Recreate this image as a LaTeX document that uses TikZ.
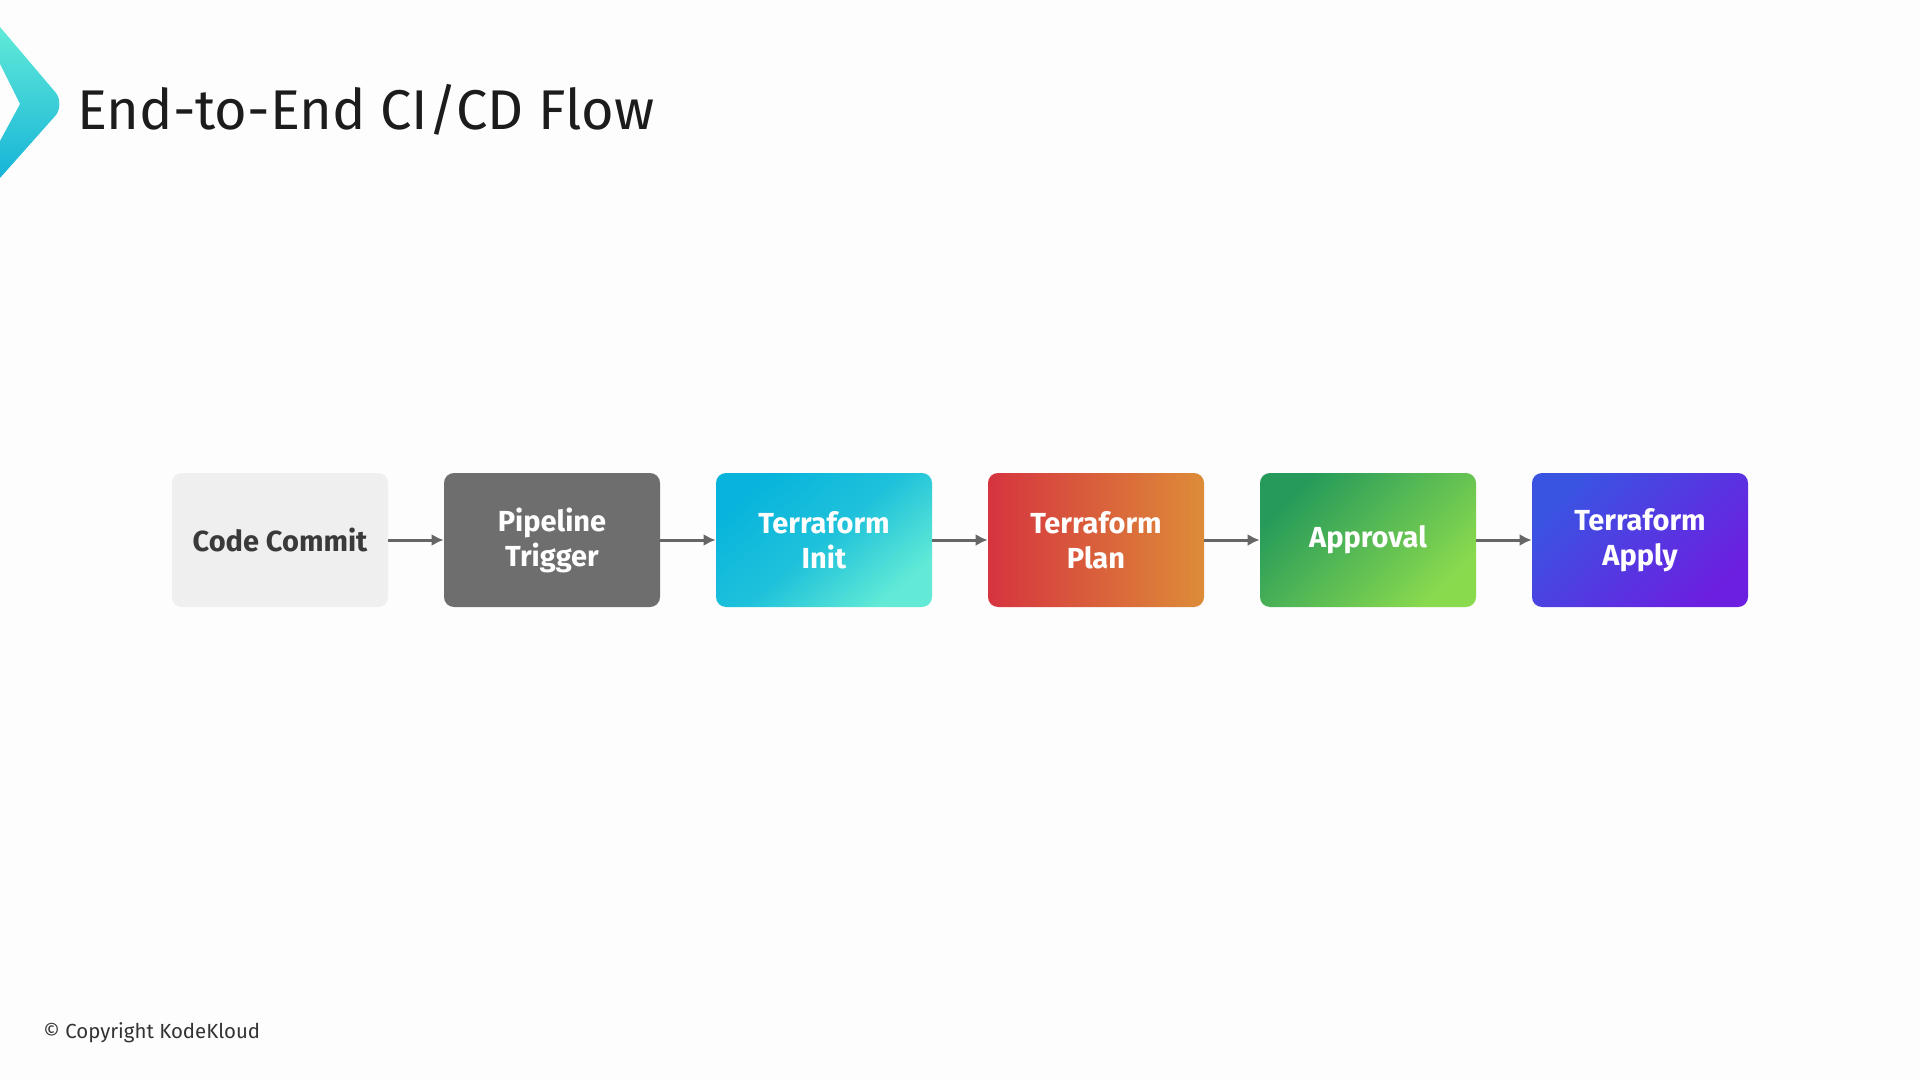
\documentclass[tikz,border=0pt]{standalone}
\usepackage{fontspec}
\setmainfont{Fira Sans}
\usetikzlibrary{arrows.meta}
\definecolor{bgc}{HTML}{FDFDFD}
\definecolor{titlec}{HTML}{1C1C1C}
\definecolor{arrc}{HTML}{666666}
\definecolor{ccfill}{HTML}{EFEFEF}
\definecolor{cctext}{HTML}{3A3A3A}
\definecolor{ptfill}{HTML}{6E6E6E}
\definecolor{initA}{HTML}{08B4DC}
\definecolor{initB}{HTML}{62EAD6}
\definecolor{planA}{HTML}{D6343F}
\definecolor{planB}{HTML}{DD8C38}
\definecolor{apprA}{HTML}{259A5A}
\definecolor{apprB}{HTML}{8ADA4E}
\definecolor{applyA}{HTML}{3A54E2}
\definecolor{applyB}{HTML}{6C1FE0}
\definecolor{logoA}{HTML}{62EAD8}
\definecolor{logoB}{HTML}{16B4D8}
\tikzset{
  stepbox/.style={rounded corners=5pt, minimum width=108pt, minimum height=67pt,
    inner sep=0pt, align=center, text=white,
    font=\fontsize{14.5}{17.5}\selectfont\bfseries},
  flowarrow/.style={draw=arrc, line width=1.5pt, -{Latex[length=6pt,width=6pt]}}
}
\begin{document}
\begin{tikzpicture}[x=0.5pt,y=-0.5pt]
\fill[bgc] (0,0) rectangle (1920,1080);
\useasboundingbox (0,0) rectangle (1920,1080);
% logo chevron
\shade[top color=logoA, bottom color=logoB]
  (0,27) -- (56,93) to[out=-50,in=50,looseness=0.8] (56,115) -- (0,178) -- (0,141) -- (20,104) -- (0,64) -- cycle;
% title
\node[anchor=base west, inner sep=0pt, text=titlec, font=\fontsize{28}{32}\selectfont] (title) at (77,130) {End-to-End CI/CD Flow};
% boxes
\node[stepbox, fill=ccfill, text=cctext] (cc) at (280,540) {Code Commit};
\node[stepbox, fill=ptfill] (pt) at (552,540) {Pipeline\\Trigger};
\node[stepbox, top color=initA, bottom color=initB, middle color=initA!75!initB, shading angle=40] (ti) at (824,540) {Terraform\\Init};
\node[stepbox, left color=planA, right color=planB] (tp) at (1096,540) {Terraform\\Plan};
\node[stepbox, top color=apprA, bottom color=apprB, shading angle=45] (ap) at (1368,540) {Approval};
\node[stepbox, top color=applyA, bottom color=applyB, shading angle=45] (ta) at (1640,540) {Terraform\\Apply};
% arrows
\draw[flowarrow] (cc.east) -- (pt.west);
\draw[flowarrow] (pt.east) -- (ti.west);
\draw[flowarrow] (ti.east) -- (tp.west);
\draw[flowarrow] (tp.east) -- (ap.west);
\draw[flowarrow] (ap.east) -- (ta.west);
% copyright
\node[anchor=base west, inner sep=0pt, text=titlec!90, font=\fontsize{10.2}{12}\selectfont] (copy) at (43,1038) {© Copyright KodeKloud};
\end{tikzpicture}
\end{document}
